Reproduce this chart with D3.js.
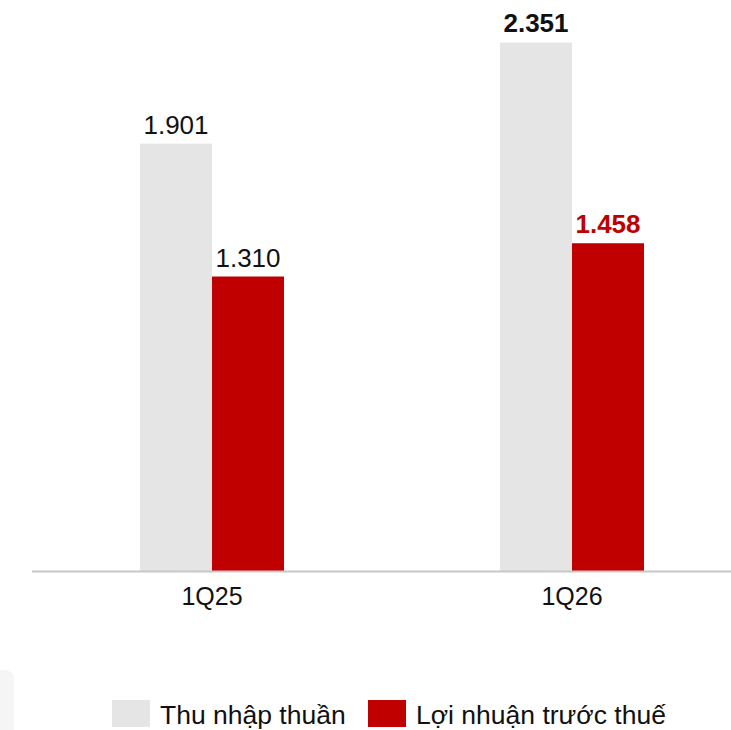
<!DOCTYPE html>
<html>
<head>
<meta charset="utf-8">
<script src="https://cdn.jsdelivr.net/npm/d3@7"></script>
<style>
  html, body { margin: 0; padding: 0; background: #fff; }
  svg { display: block; font-family: "Liberation Sans", Arial, Helvetica, sans-serif; }
</style>
</head>
<body>
<svg id="chart" width="731" height="730"></svg>
<script>
// Quarterly figures (nghìn tỷ đồng)
const categories = ["1Q25", "1Q26"];
const seriesNames = ["Thu nhập thuần", "Lợi nhuận trước thuế"];
const thuNhapThuan = [1.901, 2.351];
const loiNhuanTruocThue = [1.310, 1.458];
const seriesValues = [thuNhapThuan, loiNhuanTruocThue];

const colors = ["#e5e5e5", "#c00000"];
const labelColors = ["#111111", "#c00000"];
const fmt = v => d3.format(".3f")(v);

const svg = d3.select("#chart");
const W = 731, H = 730;
const baseY = 571;

const x0 = d3.scaleBand().domain(categories).range([32, 752]).padding(0);
const groupW = 144;
const x1 = d3.scaleBand().domain(seriesNames)
  .range([x0.bandwidth() / 2 - groupW / 2, x0.bandwidth() / 2 + groupW / 2]).padding(0);
const y = d3.scaleLinear().domain([0, 2.54]).range([baseY, 0]);

// faint panel corner at bottom left
svg.append("path")
  .attr("d", "M0,670 L4,670 Q14,670 14,680 L14,730 L0,730 Z")
  .attr("fill", "#f5f5f5");

const rows = categories.map((c, i) => ({
  cat: c, idx: i,
  vals: seriesNames.map((s, j) => ({ series: s, j, value: seriesValues[j][i] }))
}));

const groups = svg.append("g").selectAll("g").data(rows).join("g")
  .attr("transform", d => `translate(${x0(d.cat)},0)`);

groups.selectAll("rect").data(d => d.vals).join("rect")
  .attr("x", d => x1(d.series))
  .attr("width", x1.bandwidth())
  .attr("y", d => y(d.value))
  .attr("height", d => baseY - y(d.value))
  .attr("fill", d => colors[d.j]);

// value labels; the latest quarter is emphasised in bold
const latest = categories.length - 1;
groups.each(function (row) {
  d3.select(this).selectAll("text").data(row.vals).join("text")
    .attr("x", d => x1(d.series) + x1.bandwidth() / 2)
    .attr("y", d => y(d.value) - 10)
    .attr("text-anchor", "middle")
    .attr("font-size", 26)
    .attr("font-weight", row.idx === latest ? "bold" : "normal")
    .attr("fill", d => row.idx === latest ? labelColors[d.j] : "#111111")
    .text(d => fmt(d.value));
});

// category axis
const xAxis = d3.axisBottom(x0).tickSize(0).tickPadding(16);
const axG = svg.append("g").attr("transform", `translate(0,${baseY})`).call(xAxis);
axG.select(".domain").remove();
axG.append("line")
  .attr("x1", 32).attr("x2", W).attr("y1", 0.5).attr("y2", 0.5)
  .attr("stroke", "#c8c8c8").attr("stroke-width", 2);
axG.selectAll(".tick text")
  .attr("font-size", 25)
  .attr("font-family", "'Liberation Sans', Arial, sans-serif")
  .attr("fill", "#111111");

// legend
const legend = svg.append("g").attr("transform", "translate(112,700)");
const legendItems = [
  { name: seriesNames[0], color: colors[0], x: 0 },
  { name: seriesNames[1], color: colors[1], x: 256 }
];
const li = legend.selectAll("g").data(legendItems).join("g")
  .attr("transform", d => `translate(${d.x},0)`);
li.append("rect").attr("width", 38).attr("height", 27).attr("fill", d => d.color);
li.append("text").attr("x", 48).attr("y", 24)
  .attr("font-size", 26.5).attr("fill", "#111111")
  .text(d => d.name);
</script>
</body>
</html>
